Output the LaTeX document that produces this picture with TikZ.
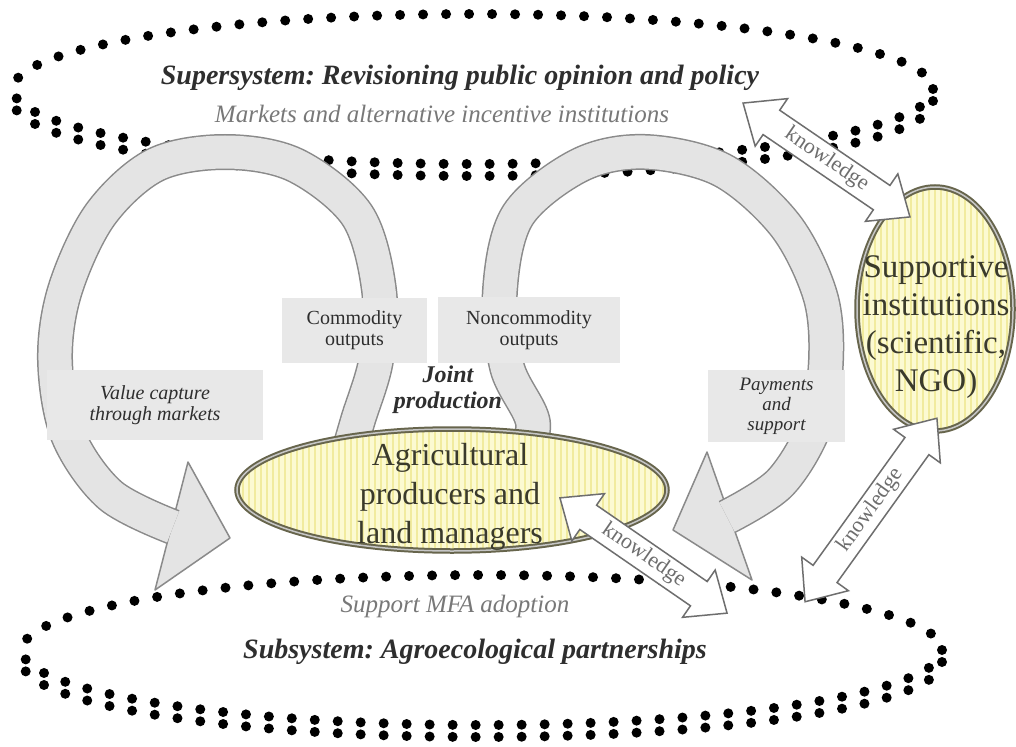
\documentclass[tikz,border=0pt]{standalone}
\usepackage{fontspec}
\setmainfont{Liberation Serif}
\usetikzlibrary{shapes.geometric,shapes.arrows,calc}
\definecolor{bandfill}{HTML}{E4E4E4}
\definecolor{bandline}{HTML}{8A8A8A}
\definecolor{boxfill}{HTML}{E8E8E8}
\definecolor{yfill}{HTML}{FCFAD2}
\definecolor{ystripe}{HTML}{F1EB9E}
\definecolor{yborder}{HTML}{67654C}
\definecolor{graytext}{HTML}{787878}
\definecolor{darktext}{HTML}{2E2E2E}
\definecolor{agritext}{HTML}{3A3A2C}
\definecolor{knline}{HTML}{6E6E6E}
\frenchspacing
\begin{document}
\begin{tikzpicture}[x=1pt,y=-1pt,
  dotline/.style={black, line width=10pt, dash pattern=on 0pt off 23pt, line cap=round},
  band/.style={draw=bandfill, line width=33pt, preaction={draw=bandline, line width=36pt}},
  bandhead/.style={fill=bandfill, draw=bandline, line width=1.5pt, line join=round},
  graybox/.style={fill=boxfill, inner sep=0pt, align=center, text=darktext},
  yell/.style={ellipse, fill=yfill, draw=yborder, line width=2pt, double=gray!45, double distance=1.5pt,
    path picture={\foreach \i in {0,6,...,480}{\draw[ystripe, line width=2.4pt]
      ($(path picture bounding box.north west)+(\i,0)$) -- ($(path picture bounding box.south west)+(\i,0)$);}}},
  bigtext/.style={align=center, text=agritext},
  title/.style={font=\fontsize{28}{30}\selectfont\bfseries\itshape, text=darktext},
  subtitle/.style={font=\fontsize{25}{27}\selectfont\itshape, text=graytext},
  kn/.style={double arrow, draw=knline, fill=white, line width=1.5pt, double arrow head extend=14pt,
    double arrow tip angle=80, minimum height=#1, inner xsep=0pt, inner ysep=4pt,
    text height=15pt, text depth=5pt, font=\fontsize{22}{24}\selectfont, text=knline}
]
\useasboundingbox (0,0) rectangle (1016,746);
\fill[white] (0,0) rectangle (1016,746);

% dotted system ellipses
\draw[dotline] (473,89) ellipse (460 and 75);
\draw[dotline] (933,101) arc[start angle=0, end angle=180, x radius=460, y radius=75];
\draw[dotline] (482,650) ellipse (460 and 75);
\draw[dotline] (942,662) arc[start angle=0, end angle=180, x radius=460, y radius=75];

\node[title] (super) at (460,78) {Supersystem: Revisioning public opinion and policy};
\node[subtitle] (markets) at (442,114) {Markets and alternative incentive institutions};
\node[subtitle] (adopt) at (455,606) {Support MFA adoption};
\node[title] (sub) at (475,652) {Subsystem: Agroecological partnerships};

% left loop
\filldraw[bandhead] (188,462) -- (230,538) -- (155,590) -- cycle;
\path[band] plot[smooth, tension=0.55] coordinates {(345,465) (358,420) (376,360) (379,290) (357,215) (295,165) (225,152) (155,165) (100,215) (65,290) (55,360) (68,435) (110,495) (173,527)};
% right loop
\filldraw[bandhead] (707,452) -- (673,530) -- (752,580) -- cycle;
\path[band] plot[smooth, tension=0.55] coordinates {(520,465) (533,423) (507,367) (500,290) (518,215) (580,165) (645,152) (722,170) (785,225) (820,295) (826,360) (815,425) (780,483) (727,517)};

% labels on the loops
\node[graybox, minimum width=145pt, minimum height=65pt, font=\fontsize{20}{21}\selectfont] (commodity) at (354.5,330.5) {Commodity\\outputs};
\node[graybox, minimum width=182pt, minimum height=66pt, font=\fontsize{20}{21}\selectfont] (noncommodity) at (529,330) {Noncommodity\\outputs};
\node[graybox, minimum width=216pt, minimum height=70pt, font=\fontsize{20}{21}\selectfont\itshape] (value) at (155,405) {Value capture\\through markets};
\node[graybox, minimum width=137pt, minimum height=72pt, font=\fontsize{19}{20}\selectfont\itshape] (payments) at (776.5,406) {Payments\\and\\support};

% actors
\node[yell, minimum width=430pt, minimum height=122pt] (agri) at (452,490) {};
\node[bigtext, font=\fontsize{32}{39}\selectfont] (agrilabel) at (450,497) {Agricultural\\producers and\\land managers};
\node[yell, minimum width=156pt, minimum height=244pt] (supp) at (935,309) {};
\node[bigtext, font=\fontsize{33}{38}\selectfont] (supplabel) at (936,327) {Supportive\\institutions\\(scientific,\\NGO)};

\node[font=\fontsize{24}{26}\selectfont\bfseries\itshape, align=center, text=darktext] (joint) at (448,390) {Joint\\production};

% knowledge exchanges
\node[kn=202pt, rotate=-34.3] (k1) at (826.5,160) {knowledge};
\node[kn=203pt, rotate=-34.6] (k3) at (643.5,555.5) {knowledge};
\node[kn=226pt, rotate=54.3] (k2) at (871,510) {knowledge};
\end{tikzpicture}
\end{document}
